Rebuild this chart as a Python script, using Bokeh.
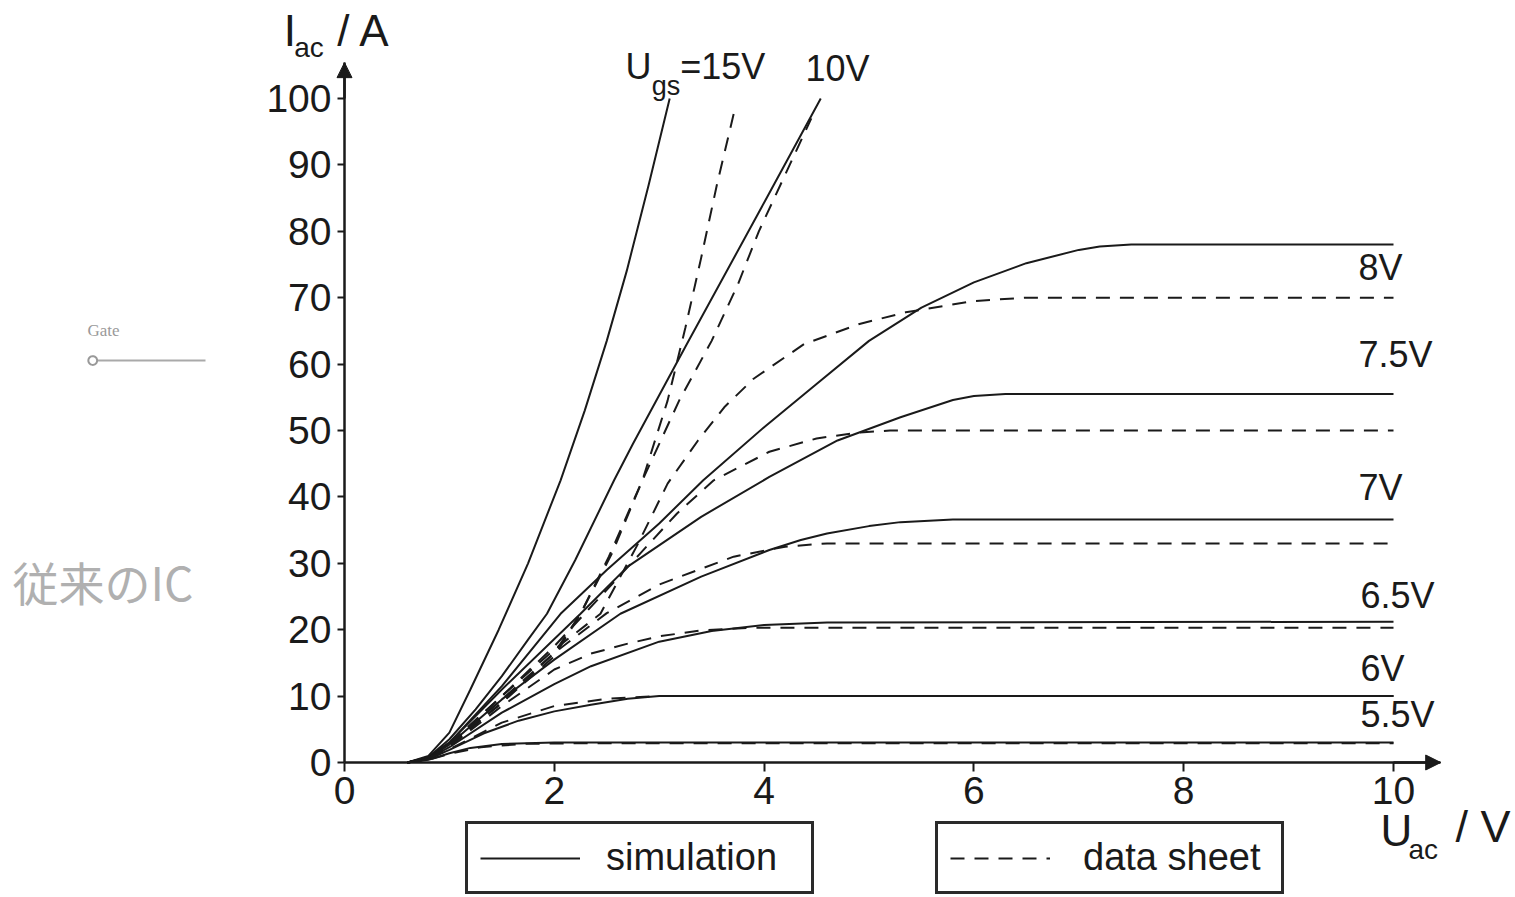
from bokeh.plotting import figure
from bokeh.models import (Range1d, Label, Legend, LegendItem, Arrow, NormalHead,
                          FixedTicker, PolyAnnotation, LinearAxis)
from bokeh.embed import file_html
from bokeh.resources import INLINE
import numpy as np

# ---------------- data ----------------
x_ticks = [0, 2, 4, 6, 8, 10]
y_ticks = [0, 10, 20, 30, 40, 50, 60, 70, 80, 90, 100]

# simulation (solid)
sim_15_x = [0.6, 0.8, 1.0, 1.2, 1.47, 1.75, 2.06, 2.29, 2.5, 2.69, 2.9, 3.1]
sim_15_i = [0, 1.0, 4.5, 11, 20, 30, 42.5, 53, 63.5, 74, 87, 100]
sim_10_x = [0.6, 0.8, 1.0, 1.25, 1.5, 1.75, 1.93, 2.2, 2.57, 2.75, 3.26, 4.01, 4.54]
sim_10_i = [0, 0.8, 3.5, 8, 13, 18.5, 22.4, 30.5, 42.5, 48, 62.9, 84.6, 100]
sim_8_x = [0.6, 0.8, 1.0, 1.5, 2.06, 2.5, 3.0, 3.42, 4.0, 4.5, 5.0, 5.5, 6.0, 6.5, 7.0, 7.2, 7.5, 10]
sim_8_i = [0, 0.8, 3.0, 11.5, 22.4, 29, 36, 42.5, 50.5, 57, 63.5, 68.5, 72.3, 75.2, 77.2, 77.7, 78, 78]
sim_75_x = [0.6, 0.8, 1.0, 1.5, 2.25, 2.7, 3.4, 4.05, 4.7, 5.3, 5.8, 6.0, 6.3, 10]
sim_75_i = [0, 0.8, 3.0, 11, 22.4, 29.5, 37, 43, 48.5, 52, 54.6, 55.2, 55.5, 55.5]
sim_7_x = [0.6, 0.8, 1.0, 1.5, 2.0, 2.63, 3.4, 4.05, 4.35, 4.6, 5.0, 5.3, 5.8, 10]
sim_7_i = [0, 0.7, 2.7, 9.5, 15.5, 22.4, 28, 32, 33.5, 34.5, 35.6, 36.2, 36.6, 36.6]
sim_65_x = [0.6, 0.8, 1.0, 1.5, 2.0, 2.35, 3.0, 3.5, 4.0, 4.6, 10]
sim_65_i = [0, 0.6, 2.3, 7.5, 11.8, 14.5, 18.2, 19.8, 20.7, 21.1, 21.2]
sim_6_x = [0.6, 0.8, 1.0, 1.33, 1.66, 2.0, 2.35, 2.7, 3.0, 10]
sim_6_i = [0, 0.5, 1.9, 4.4, 6.3, 7.7, 8.7, 9.6, 10, 10]
sim_55_x = [0.6, 0.8, 1.0, 1.2, 1.5, 2.0, 10]
sim_55_i = [0, 0.4, 1.4, 2.2, 2.8, 3.0, 3.0]

# data sheet (dashed)
ds_15_x = [0.6, 0.8, 1.0, 1.5, 2.0, 2.25, 2.52, 2.84, 3.08, 3.25, 3.4, 3.55, 3.73]
ds_15_i = [0, 0.6, 2.5, 9, 16.5, 22.4, 31, 42.5, 54.5, 65.5, 76, 87, 99]
ds_10_x = [0.6, 0.8, 1.0, 1.5, 2.0, 2.25, 2.55, 2.84, 3.19, 3.5, 3.75, 3.95, 4.2, 4.45]
ds_10_i = [0, 0.6, 2.5, 9, 16, 22.4, 31.5, 42.5, 54.5, 63.5, 72, 80, 88.5, 97]
ds_8_x = [0.6, 0.8, 1.0, 1.5, 2.0, 2.44, 2.8, 3.08, 3.37, 3.62, 3.9, 4.38, 4.9, 5.35, 6.0, 6.5, 10]
ds_8_i = [0, 0.6, 2.8, 10, 17, 22.4, 33, 42, 48.5, 53.5, 57.8, 63, 66, 67.8, 69.5, 70, 70]
ds_75_x = [0.6, 0.8, 1.0, 1.5, 2.0, 2.5, 2.82, 3.17, 3.52, 4.05, 4.5, 4.9, 5.2, 10]
ds_75_i = [0, 0.6, 2.7, 10, 17.5, 26, 31.5, 37.5, 42.5, 46.8, 48.8, 49.7, 50, 50]
ds_7_x = [0.6, 0.8, 1.0, 1.5, 2.0, 2.5, 3.0, 3.37, 3.71, 4.2, 4.6, 10]
ds_7_i = [0, 0.6, 2.6, 9.5, 16.5, 22.5, 26.8, 29, 31, 32.5, 33, 33]
ds_65_x = [0.6, 0.8, 1.0, 1.5, 2.0, 2.35, 2.7, 3.0, 3.4, 3.9, 10]
ds_65_i = [0, 0.5, 2.4, 8.5, 14, 16.4, 17.9, 19, 19.9, 20.3, 20.3]
ds_6_x = [0.6, 0.8, 1.0, 1.5, 2.0, 2.5, 3.0, 10]
ds_6_i = [0, 0.5, 2.0, 6.0, 8.5, 9.6, 10, 10]
ds_55_x = [0.6, 0.8, 1.0, 1.3, 1.7, 2.2, 10]
ds_55_i = [0, 0.4, 1.3, 2.3, 2.8, 2.9, 2.9]

curve_labels = ["10V", "8V", "7.5V", "7V", "6.5V", "6V", "5.5V"]
curve_label_x = [4.395, 9.667, 9.667, 9.667, 9.686, 9.686, 9.686]
curve_label_y = [101.5, 71.5, 58.3, 38.3, 22.0, 11.1, 4.07]

# ---------------- figure ----------------
INK = "#1a1a1a"
FONT = "Liberation Sans"
W, H = 1515, 897
SX, SY = 104.9, 6.64          # px per unit
X0, Y0 = 344, 762             # canvas position of the origin

p = figure(width=W, height=H,
           x_range=Range1d(-X0 / SX, (W - X0) / SX),
           y_range=Range1d(-(H - Y0) / SY, Y0 / SY),
           output_backend="svg", toolbar_location=None,
           x_axis_location=None, y_axis_location=None,
           min_border=0, min_border_left=0, min_border_right=0,
           min_border_top=0, min_border_bottom=0)
p.outline_line_color = None
p.background_fill_color = "white"
p.border_fill_color = "white"
p.xgrid.visible = False
p.ygrid.visible = False

xax = LinearAxis(fixed_location=0, bounds=(0, 10.45), ticker=FixedTicker(ticks=x_ticks))
yax = LinearAxis(fixed_location=0, bounds=(0, 105.4), ticker=FixedTicker(ticks=y_ticks))
for ax in (xax, yax):
    ax.axis_line_color = INK
    ax.axis_line_width = 2.5
    ax.major_tick_line_color = INK
    ax.major_tick_line_width = 2
    ax.major_tick_in = 0
    ax.minor_tick_line_color = None
    ax.major_label_text_font = FONT
    ax.major_label_text_font_size = "39px"
    ax.major_label_text_color = INK
xax.major_tick_out = 9
xax.major_label_standoff = 5
yax.major_tick_out = 7
yax.major_label_standoff = 6
p.add_layout(xax, "below")
p.add_layout(yax, "left")

# axis arrows
p.add_layout(Arrow(end=NormalHead(size=15, fill_color=INK, line_color=INK),
                   x_start=0, y_start=100, x_end=0, y_end=105.4,
                   line_color=INK, line_width=2.5))
p.add_layout(Arrow(end=NormalHead(size=15, fill_color=INK, line_color=INK),
                   x_start=10, y_start=0, x_end=10.45, y_end=0,
                   line_color=INK, line_width=2.5))

DASH = "14 10"
sims = [(sim_15_x, sim_15_i), (sim_10_x, sim_10_i), (sim_8_x, sim_8_i), (sim_75_x, sim_75_i),
        (sim_7_x, sim_7_i), (sim_65_x, sim_65_i), (sim_6_x, sim_6_i), (sim_55_x, sim_55_i)]
dss = [(ds_15_x, ds_15_i), (ds_10_x, ds_10_i), (ds_8_x, ds_8_i), (ds_75_x, ds_75_i),
       (ds_7_x, ds_7_i), (ds_65_x, ds_65_i), (ds_6_x, ds_6_i), (ds_55_x, ds_55_i)]

sim_r = [p.line(xs, ys, line_color=INK, line_width=2) for xs, ys in sims]
ds_r = [p.line(xs, ys, line_color=INK, line_width=2, line_dash=DASH) for xs, ys in dss]

# curve labels
lab_size = "36px"
p.add_layout(Label(x=2.679, y=101.7, text="U", text_font=FONT, text_font_size=lab_size, text_color=INK))
p.add_layout(Label(x=2.93, y=99.6, text="gs", text_font=FONT, text_font_size="27px", text_color=INK))
p.add_layout(Label(x=3.2, y=101.7, text="=15V", text_font=FONT, text_font_size=lab_size, text_color=INK))
for t, lx, ly in zip(curve_labels, curve_label_x, curve_label_y):
    p.add_layout(Label(x=lx, y=ly, text=t, text_font=FONT, text_font_size=lab_size, text_color=INK))

# axis titles
p.add_layout(Label(x=-0.58, y=106.6, text="I", text_font=FONT, text_font_size="44px", text_color=INK))
p.add_layout(Label(x=-0.48, y=105.3, text="ac", text_font=FONT, text_font_size="28px", text_color=INK))
p.add_layout(Label(x=-0.07, y=106.6, text="/ A", text_font=FONT, text_font_size="44px", text_color=INK))
p.add_layout(Label(x=9.876, y=-14.0, text="U", text_font=FONT, text_font_size="44px", text_color=INK))
p.add_layout(Label(x=10.143, y=-15.4, text="ac", text_font=FONT, text_font_size="28px", text_color=INK))
p.add_layout(Label(x=10.59, y=-13.55, text="/ V", text_font=FONT, text_font_size="45px", text_color=INK))

# legends (two separate boxes under the plot)
leg_common = dict(padding=12, glyph_height=30, label_text_font=FONT, label_text_font_size="38px",
                  label_text_color=INK, border_line_color="#2a2a2a", border_line_width=3,
                  border_line_alpha=1.0,
                  background_fill_color="white", background_fill_alpha=1.0, margin=0,
                  spacing=0)
leg1 = Legend(items=[LegendItem(label="simulation", renderers=[sim_r[0]])],
              location=(465, 3), glyph_width=100, label_standoff=26, label_width=193, **leg_common)
leg2 = Legend(items=[LegendItem(label="data sheet", renderers=[ds_r[0]])],
              location=(935, 3), glyph_width=100, label_standoff=33, label_width=186, **leg_common)
p.add_layout(leg1)
p.add_layout(leg2)

# stray page artefacts on the left
GRAY = "#a9a9a9"
p.add_layout(Label(x=-2.45, y=63.6, text="Gate", text_font="Liberation Serif", text_font_size="17px",
                   text_color="#9a9a9a"))
p.add_layout(Arrow(end=None, x_start=-2.36, y_start=60.54, x_end=-1.325, y_end=60.54,
                   line_color=GRAY, line_width=2))
th = np.linspace(0, 2 * np.pi, 24)
p.add_layout(PolyAnnotation(xs=list(-2.40 + 0.042 * np.cos(th)), ys=list(60.54 + 0.66 * np.sin(th)),
                            fill_color="white", fill_alpha=1, line_color="#999999", line_alpha=1,
                            line_width=2))
p.add_layout(Label(x=-3.165, y=22.3, text="従来のIC", text_font="Noto Sans CJK JP",
                   text_font_size="46px", text_color="#b0b0b0"))

open("out.html", "w").write(file_html(p, INLINE))
